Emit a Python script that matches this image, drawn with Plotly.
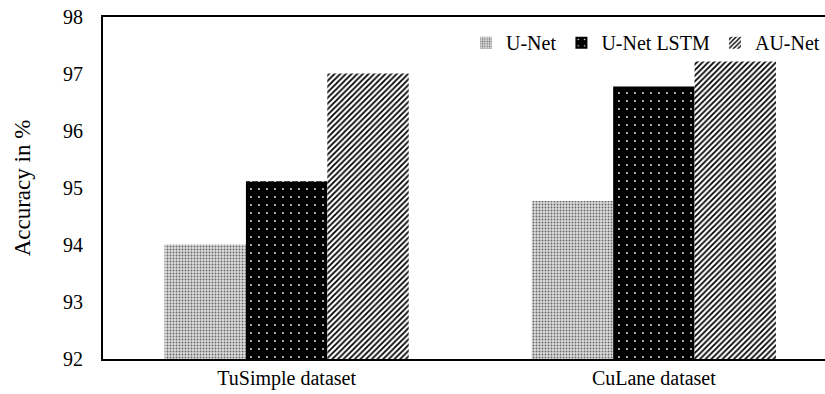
import plotly.graph_objects as go

categories = ["TuSimple dataset", "CuLane dataset"]
series_names = ["U-Net", "U-Net LSTM", "AU-Net"]
unet = [94.01, 94.77]
unet_lstm = [95.12, 96.78]
au_net = [97.01, 97.22]
y_ticks = [92, 93, 94, 95, 96, 97, 98]

FONT = "Liberation Serif"

styles = [
    dict(color="#d9d9d9", pattern=dict(shape=".", fgcolor="#666666", bgcolor="#dcdcdc",
                                       size=3, solidity=0.3, fillmode="replace")),
    dict(color="#000000", pattern=dict(shape=".", fgcolor="#ffffff", bgcolor="#000000",
                                       size=8, solidity=0.04, fillmode="replace")),
    dict(color="#ffffff", pattern=dict(shape="/", fgcolor="#000000", bgcolor="#ffffff",
                                       size=4, solidity=0.45, fillmode="replace")),
]

fig = go.Figure()
for name, vals, st in zip(series_names, [unet, unet_lstm, au_net], styles):
    fig.add_trace(go.Bar(
        x=categories, y=vals, name=name,
        marker=dict(color=st["color"], pattern=st["pattern"], line=dict(width=0)),
    ))

fig.update_layout(
    width=825, height=394,
    margin=dict(l=103, r=0, t=17, b=35),
    paper_bgcolor="white", plot_bgcolor="white",
    font=dict(family=FONT, size=20, color="#000000"),
    barmode="group", bargap=0.335, bargroupgap=0,
    showlegend=True,
    legend=dict(orientation="h", x=1, xanchor="right", y=0.925, yanchor="middle",
                font=dict(family=FONT, size=20, color="#000000"),
                bgcolor="rgba(0,0,0,0)", itemwidth=30, traceorder="normal"),
)
fig.update_xaxes(
    range=[-0.5, 1.466], showline=True, linecolor="#000000", linewidth=2,
    mirror=True, ticks="", showgrid=False, zeroline=False,
    tickfont=dict(family=FONT, size=20, color="#000000"),
)
fig.update_yaxes(
    range=[92, 98], tickvals=y_ticks, ticktext=[str(v) for v in y_ticks],
    showline=True, linecolor="#000000", linewidth=2, mirror=False,
    ticks="", showgrid=False, zeroline=False, ticklabelstandoff=14,
    tickfont=dict(family=FONT, size=20, color="#000000"),
    title=dict(text="Accuracy in %", font=dict(family=FONT, size=23, color="#000000"),
               standoff=26),
)

fig.write_html("out.html")
